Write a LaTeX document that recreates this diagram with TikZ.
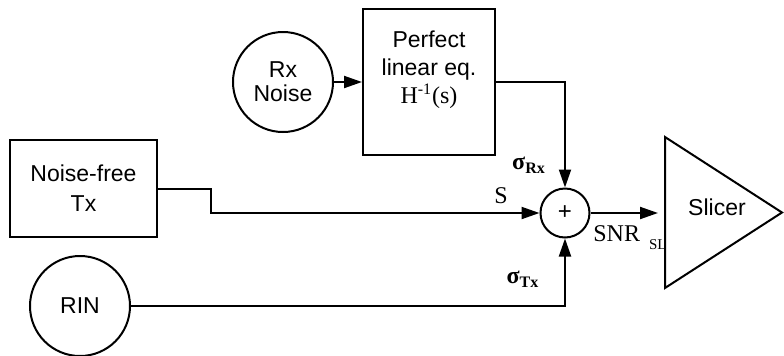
\documentclass[tikz,border=0pt]{standalone}
\usepackage{fontspec}
\setmainfont{Liberation Serif}
\setsansfont{Liberation Sans}
\usetikzlibrary{positioning, calc, arrows.meta}

\tikzset{
    blk/.style={draw, line width=1pt, rectangle, align=center, font=\sffamily\fontsize{11.5}{15}\selectfont},
    src/.style={draw, line width=1pt, circle, minimum size=50pt, inner sep=0pt, align=center, font=\sffamily\fontsize{11.5}{12}\selectfont},
    sumnode/.style={draw, line width=1pt, circle, minimum size=24.5pt, inner sep=0pt, font=\sffamily\fontsize{12}{14}\selectfont},
    txt/.style={inner sep=0pt, align=center, font=\sffamily\fontsize{11.5}{14}\selectfont},
    arr/.style={line width=1pt, -{Triangle[length=9pt,width=6pt]}},
    wire/.style={line width=1pt},
    lbl/.style={font=\fontsize{12}{14}\selectfont, inner sep=0pt}
}

\begin{document}
\begin{tikzpicture}[x=0.5pt, y=-0.5pt]

    \useasboundingbox (0,0) rectangle (784,355);

    % --- Sources and blocks ---
    \node[src] (rxn) at (283,82) {Rx\\Noise};
    \node[blk, minimum width=66pt, minimum height=73pt] (eq) at (429,82) {};
    \node[txt, below=11pt of eq.north] (eqtxt)
        {Perfect\\linear eq.\\{\rmfamily\fontsize{12}{13}\selectfont H\textsuperscript{-1}(s)}};
    \node[blk, minimum width=73.5pt, minimum height=48.5pt] (tx) at (83.5,188.5) {Noise-free\\Tx};
    \node[src] (rin) at (80,306) {RIN};

    % --- Summing point ---
    \node[sumnode] (sum) at (565,213) {+};

    % --- Slicer (triangle) ---
    \coordinate (slA) at (665,137);
    \coordinate (slB) at (782,212.5);
    \coordinate (slC) at (665,288);
    \coordinate (slin) at (658,213);
    \draw[wire] (slA) -- (slB) -- (slC) -- cycle;
    \node[txt] (slicer) at (717,207) {Slicer};

    % --- Connections ---
    \draw[arr] (rxn) -- (eq);
    \draw[arr] (eq.east) -| (sum.north);
    \draw[arr] (tx.east) -- ++(53,0) |- (sum.west);
    \draw[arr] (rin.east) -| (sum.south);
    \draw[arr] (sum.east) -- (slin);

    % --- Labels ---
    \node[lbl, anchor=base] (lS) at (501,203) {S};
    \node[lbl] (lrx) at (529,165) {\textbf{σ\textsubscript{Rx}}};
    \node[lbl] (ltx) at (523,279) {\textbf{σ\textsubscript{Tx}}};
    \node[lbl, anchor=base west] (lsnr) at (593,241) {SNR\hspace{4.5pt}\raisebox{-4pt}{\fontsize{7.5}{8}\selectfont SL}};

\end{tikzpicture}
\end{document}
